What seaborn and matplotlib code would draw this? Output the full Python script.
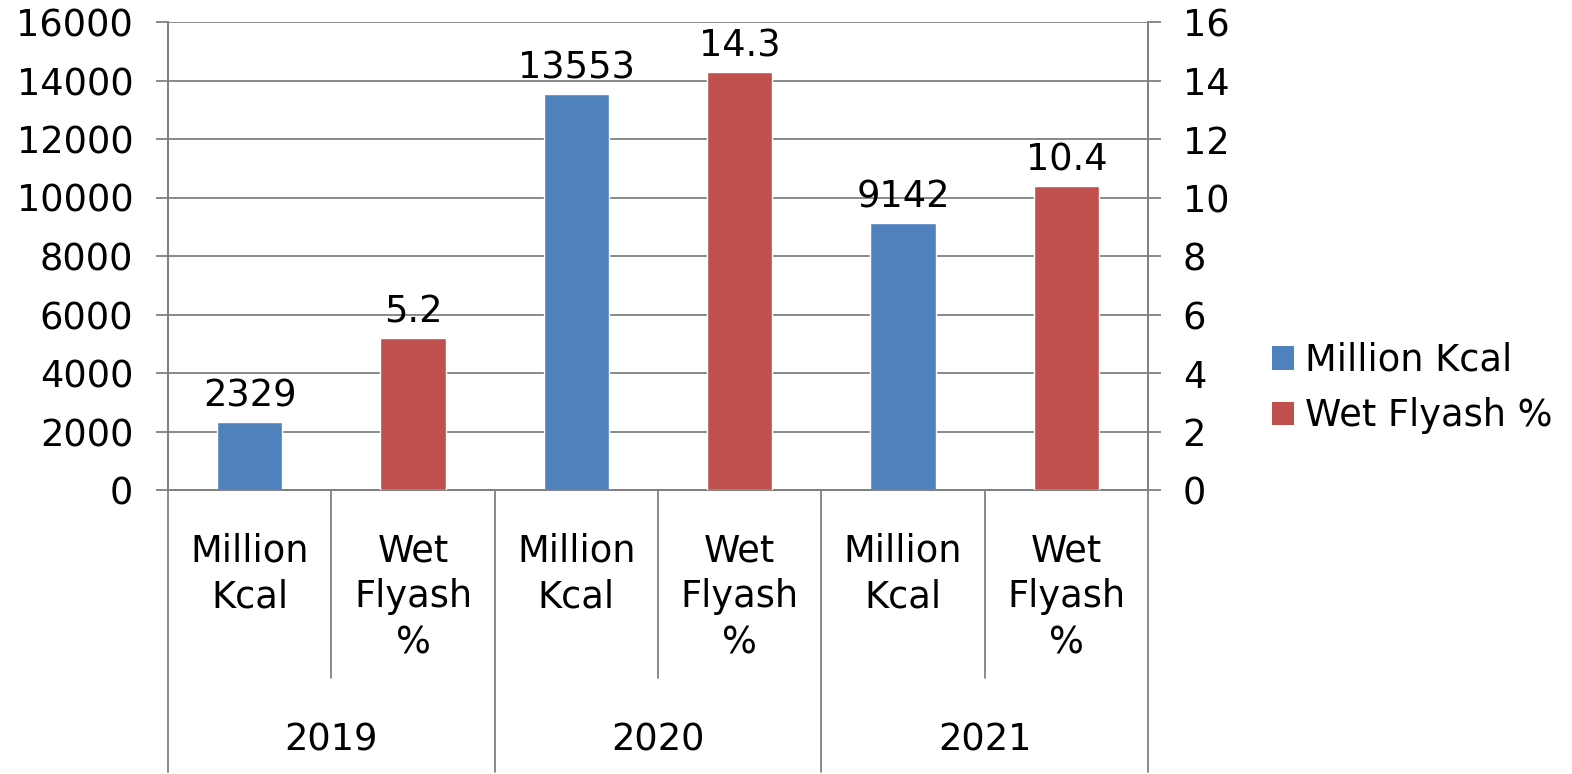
import matplotlib
matplotlib.use("Agg")
import matplotlib.pyplot as plt
import seaborn as sns
import pandas as pd
from matplotlib.patches import Patch

years = ["2019", "2020", "2021"]
kcal = [2329, 13553, 9142]
flyash = [5.2, 14.3, 10.4]
sub_labels = ["Million\nKcal", "Wet\nFlyash\n%"]
legend_labels = ["Million Kcal", "Wet Flyash %"]
left_ticks = [0, 2000, 4000, 6000, 8000, 10000, 12000, 14000, 16000]
right_ticks = [0, 2, 4, 6, 8, 10, 12, 14, 16]

BLUE = "#4F81BD"
RED = "#C0504D"
GRID = "#808080"
FS = 26.5

sns.set_theme(style="white")
plt.rcParams["font.family"] = ["DejaVu Sans"]
plt.rcParams["text.color"] = "black"
plt.rcParams["xtick.color"] = "black"
plt.rcParams["ytick.color"] = "black"

slots = [f"{y}|{s}" for y in years for s in ["kcal", "fly"]]
df_k = pd.DataFrame({"slot": [f"{y}|kcal" for y in years], "value": kcal})
df_f = pd.DataFrame({"slot": [f"{y}|fly" for y in years], "value": flyash})

fig = plt.figure(figsize=(15.72, 7.74), dpi=100)
ax1 = fig.add_axes([168/1572, 1-490/774, (1148-168)/1572, (490-22)/774])
ax2 = ax1.twinx()

sns.barplot(data=df_k, x="slot", y="value", order=slots, color=BLUE,
            saturation=1, width=0.4, ax=ax1, errorbar=None, zorder=3)
sns.barplot(data=df_f, x="slot", y="value", order=slots, color=RED,
            saturation=1, width=0.4, ax=ax2, errorbar=None, zorder=3)

ax1.set_ylim(0, 16000)
ax2.set_ylim(0, 16)
ax1.set_xlim(-0.5, len(slots)-0.5)
ax1.set_yticks(left_ticks)
ax2.set_yticks(right_ticks)
ax1.set_yticklabels([str(t) for t in left_ticks], fontsize=FS, color="black")
ax2.set_yticklabels([str(t) for t in right_ticks], fontsize=FS, color="black")
ax1.set_xticks([])
ax1.set_xlabel("")
ax1.set_ylabel("")
ax2.set_ylabel("")
ax1.yaxis.grid(True, color=GRID, linewidth=1.3)
ax1.set_axisbelow(True)
ax2.grid(False)
ax1.tick_params(axis="y", length=9, width=1.3, color=GRID, labelcolor="black", pad=16, left=True)
ax2.tick_params(axis="y", length=9, width=1.3, color=GRID, labelcolor="black", pad=16, right=True)

for a in (ax1, ax2):
    for sp in a.spines.values():
        sp.set_color(GRID)
        sp.set_linewidth(1.3)
    a.spines["top"].set_visible(False)
ax2.patch.set_visible(False)

for c in ax1.containers:
    ax1.bar_label(c, labels=[str(v) for v in kcal], fontsize=FS, padding=5, color="black")
for c in ax2.containers:
    ax2.bar_label(c, labels=[str(v) for v in flyash], fontsize=FS, padding=5, color="black")

trans = ax1.get_xaxis_transform()
h = 468.0
for i in range(1, len(slots)):
    if i % 2 == 1:
        ax1.plot([i-0.5, i-0.5], [0, -188/h], transform=trans, color=GRID,
                 lw=1.3, clip_on=False)
for i in range(0, len(slots)+1, 2):
    ax1.plot([i-0.5, i-0.5], [0, -282/h], transform=trans, color=GRID,
             lw=1.3, clip_on=False)

for i, s in enumerate(slots):
    lab = sub_labels[i % 2]
    ax1.text(i, -42/h, lab, transform=trans, ha="center", va="top",
             fontsize=FS, linespacing=1.32, multialignment="center", color="black")
for j, y in enumerate(years):
    ax1.text(2*j+0.5, -250/h, y, transform=trans, ha="center", va="center",
             fontsize=FS, color="black")

handles = [Patch(facecolor=BLUE, edgecolor="none"), Patch(facecolor=RED, edgecolor="none")]
fig.legend(handles, legend_labels, loc="center left",
           bbox_to_anchor=(1272/1572, 1-388/774), frameon=False, fontsize=FS,
           handlelength=0.6, handleheight=0.6, handletextpad=0.3,
           labelspacing=0.5, borderaxespad=0, borderpad=0)

fig.savefig("out.png", dpi=100)
